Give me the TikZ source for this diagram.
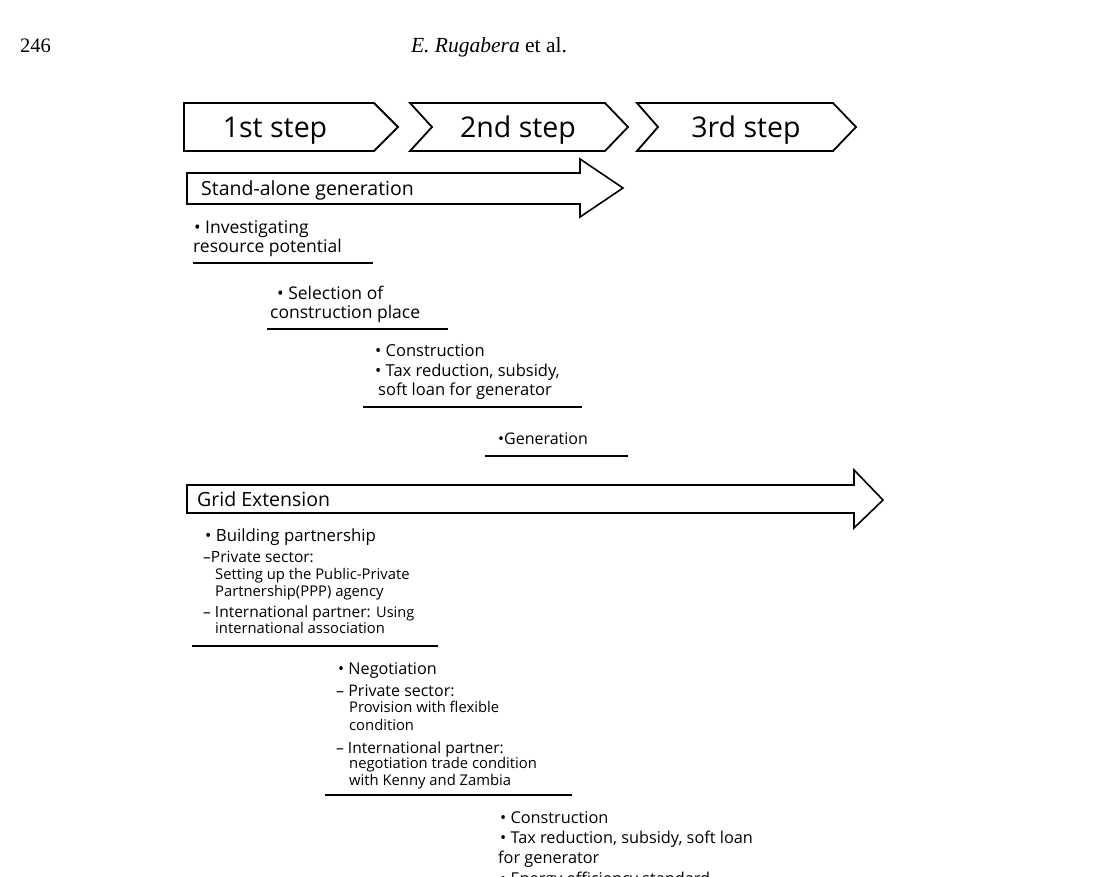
\documentclass[tikz,border=0pt]{standalone}
\usepackage{fontspec}
\setmainfont{Open Sans}
\newfontfamily\hdrfont{Liberation Serif}
\newcommand{\fsz}[1]{\fontsize{#1}{#1}\selectfont}
\begin{document}
\begin{tikzpicture}[x=1pt,y=-1pt,
  outl/.style={draw=black,line width=1.8pt,line join=miter},
  uline/.style={draw=black,line width=1.6pt},
  txt/.style={inner sep=0pt,anchor=base west,font=\fsz{16.5}},
  bigtxt/.style={inner sep=0pt,anchor=base west,font=\fsz{17.5}},
  hdtxt/.style={inner sep=0pt,anchor=base west,font=\fsz{16}},
  subtxt/.style={inner sep=0pt,anchor=base west,font=\fsz{14.8}},
  fintxt/.style={inner sep=0pt,anchor=base west,font=\fsz{16.3}},
  steptxt/.style={inner sep=0pt,anchor=base,font=\fsz{28.5}},
  bartxt/.style={inner sep=0pt,anchor=base west,font=\fsz{19.5}},
  ]
\useasboundingbox (0,0) rectangle (1104,877);
\clip (0,0) rectangle (1104,877);
\fill[white] (0,0) rectangle (1104,877);

% header
\node[inner sep=0pt,anchor=base west,font=\hdrfont\fsz{20.5}] (pg) at (20,53) {246};
\node[inner sep=0pt,anchor=base,font=\hdrfont\fsz{21.5}] (au) at (489,53) {\textit{E. Rugabera} et al.};

% step chevrons
\draw[outl] (184,103) -- (374,103) -- (398,127) -- (374,151) -- (184,151) -- cycle;
\draw[outl] (410,103) -- (605,103) -- (628,127) -- (605,151) -- (410,151) -- (432,127) -- cycle;
\draw[outl] (637,103) -- (833,103) -- (856,127) -- (833,151) -- (637,151) -- (658,127) -- cycle;
\node[steptxt] (s1) at (275,138) {1st step};
\node[steptxt] (s2) at (518,138) {2nd step};
\node[steptxt] (s3) at (746,138) {3rd step};

% stand-alone arrow
\draw[outl,line width=1.6pt] (187,173) -- (580,173) -- (580,159) -- (623,188) -- (580,217) -- (580,204) -- (187,204) -- cycle;
\node[bartxt] (sa) at (201,196) {Stand-alone generation};

\node[bigtxt] (i1) at (193,234) {\hspace{12pt}\llap{•\ }Investigating};
\node[bigtxt] (i2) at (193,253) {resource potential};
\draw[uline] (193,263) -- (373,263);

\node[bigtxt] (c1) at (271,300) {\hspace{6pt}•\ Selection of};
\node[bigtxt] (c2) at (270,319) {construction place};
\draw[uline] (267,329) -- (448,329);

\node[txt] (k1) at (375,357) {•\ Construction};
\node[txt] (k2) at (375,377) {•\ Tax reduction, subsidy,};
\node[txt] (k3) at (378,396) {soft loan for generator};
\draw[uline] (363,407) -- (582,407);

\node[inner sep=0pt,anchor=base west,font=\fsz{16}] (g1) at (498,445) {•Generation};
\draw[uline] (485,456) -- (628,456);

% grid extension arrow
\draw[outl,line width=1.6pt] (187,485) -- (854,485) -- (854,470) -- (883,500) -- (854,528) -- (854,513) -- (187,513) -- cycle;
\node[bartxt] (ge) at (197,506) {Grid Extension};

\node[inner sep=0pt,anchor=base west,font=\fsz{16.8}] (b1) at (205,541) {•\ Building partnership};
\node[hdtxt,font=\fsz{15.5}] (b2) at (203,562) {–Private sector:};
\node[subtxt] (b3) at (215,579) {Setting up the Public-Private};
\node[subtxt] (b4) at (215,596) {Partnership(PPP) agency};
\node[hdtxt,font=\fsz{15.5}] (b5) at (203,617) {–\ International partner: {\fsz{14.5}Using}};
\node[subtxt] (b6) at (215,633) {international association};
\draw[uline] (192,646) -- (438,646);

\node[hdtxt,font=\fsz{16.2}] (n1) at (338,674) {•\ Negotiation};
\node[hdtxt] (n2) at (336,696) {–\ Private sector:};
\node[subtxt] (n3) at (349,712) {Provision with flexible};
\node[subtxt] (n4) at (349,730) {condition};
\node[hdtxt,font=\fsz{15.5}] (n5) at (336,753) {–\ International partner:};
\node[subtxt] (n6) at (349,768) {negotiation trade condition};
\node[subtxt] (n7) at (349,785) {with Kenny and Zambia};
\draw[uline] (325,795) -- (572,795);

\node[fintxt] (f1) at (500,823) {•\ Construction};
\node[fintxt] (f2) at (500,843) {•\ Tax reduction, subsidy, soft loan};
\node[fintxt] (f3) at (498,863) {for generator};
\node[fintxt] (f4) at (500,884) {•\ Energy efficiency standard};
\end{tikzpicture}
\end{document}
